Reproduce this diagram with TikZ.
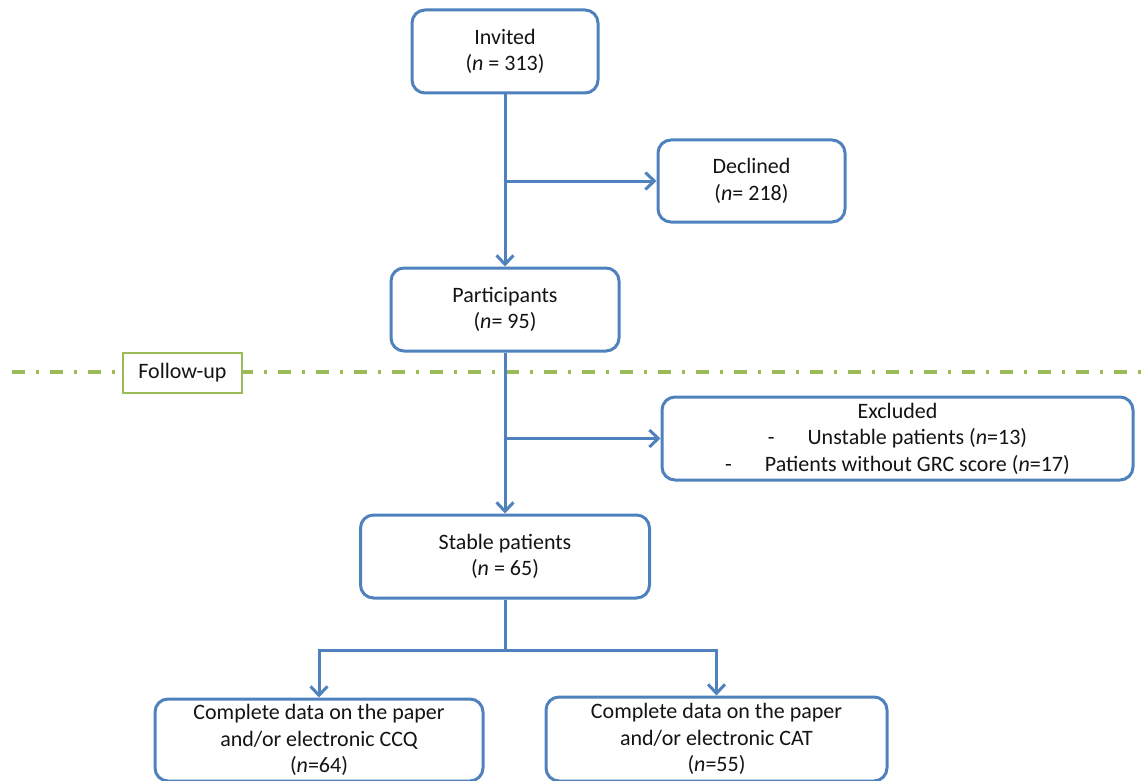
\documentclass[tikz,border=0pt]{standalone}
\usepackage{fontspec}
\setmainfont{Carlito}
\usetikzlibrary{arrows.meta}
\definecolor{flowblue}{RGB}{79,129,189}
\definecolor{flowgreen}{RGB}{155,187,89}
\definecolor{flowtext}{RGB}{20,20,20}
\begin{document}
\begin{tikzpicture}[x=1pt, y=-1pt, font=\fontsize{22}{26.5}\selectfont, text=flowtext,
		box/.style = {draw=flowblue, line width=3pt, rounded corners=13pt, align=center, fill=white},
		flow/.style = {draw=flowblue, line width=3pt, -{Straight Barb[length=9pt,width=17pt]}},
		split/.style = {draw=flowblue, line width=3pt},
		phase/.style = {draw=flowgreen, line width=1.5pt, fill=white, minimum width=119pt, minimum height=40pt}]
			\clip (0,0) rectangle (1148,781);
			% follow-up line
			\draw[flowgreen, line width=3.5pt, dash pattern=on 13pt off 11pt on 3pt off 11pt] (12,372) -- (1148,372);
			\node[phase] (followup) at (182.5,373) {Follow-up};
			\node[box, minimum width=186pt, minimum height=83pt] (invited) at (505,51.5) {Invited\\(\textit{n} = 313)};
			\node[box, minimum width=187pt, minimum height=82pt] (declined) at (751.5,181) {Declined\\(\textit{n}= 218)};
			\node[box, minimum width=228pt, minimum height=83pt] (particip) at (505,309.5) {Participants\\(\textit{n}= 95)};
			\node[box, minimum width=471pt, minimum height=83pt] (excluded) at (897.5,438.5) {Excluded\\-\hspace{33pt}Unstable patients (\textit{n}=13)\\-\hspace{33pt}Patients without GRC score (\textit{n}=17)};
			\node[box, minimum width=289pt, minimum height=83pt] (stable) at (505,556.5) {Stable patients\\(\textit{n} = 65)};
			\node[box, minimum width=328pt, minimum height=82pt] (ccq) at (319,740) {Complete data on the paper\\and/or electronic CCQ\\(\textit{n}=64)};
			\node[box, minimum width=341pt, minimum height=84pt] (cat) at (716.5,739) {Complete data on the paper\\and/or electronic CAT\\(\textit{n}=55)};
			\coordinate (fork) at (505,650);
			\draw[flow] (invited) -- (particip);
			\draw[flow] (declined.west -| invited.south) -- (declined.west);
			\draw[flow] (particip) -- (stable);
			\draw[flow] (excluded.west -| particip.south) -- (excluded.west);
			\draw[split] (stable) -- (fork);
			\draw[flow] (fork) -| (ccq.north);
			\draw[flow] (fork) -| (cat.north);
		\end{tikzpicture}
\end{document}
